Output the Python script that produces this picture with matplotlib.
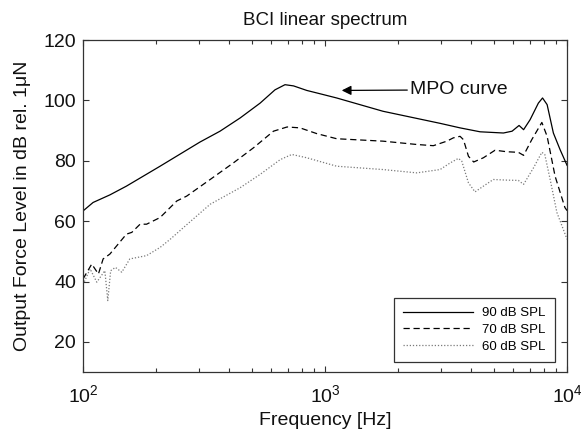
import numpy as np
import matplotlib
matplotlib.use('Agg')
import matplotlib.pyplot as plt

plt.rcParams['font.family'] = ['Liberation Sans', 'DejaVu Sans']

# 90 dB SPL (MPO curve)
f90 = [100, 110, 129, 151, 208, 304, 368, 446, 539, 621, 683, 741, 840, 953, 1117,
       1735, 2988, 3613, 4371, 5458, 5926, 6334, 6613, 7034, 7611, 7920, 8272, 8779,
       9357, 10000]
L90 = [63.4, 66.2, 68.7, 71.6, 78.2, 86.2, 89.8, 94.2, 99.1, 103.5, 105.2, 104.8,
       103.3, 102.2, 100.8, 96.4, 92.4, 90.9, 89.6, 89.2, 89.8, 91.7, 90.3, 93.6,
       99.1, 100.8, 98.6, 89.2, 83.7, 78.5]

# 70 dB SPL
f70 = [100, 108.6, 115.7, 121, 129, 151, 159, 172, 183, 208, 244, 268, 335, 418, 506,
       612, 697, 788, 924, 1117, 1735, 2392, 2802, 3186, 3391, 3613, 3731, 3913, 4113,
       4511, 5041, 5628, 6292, 6613, 7148, 7868, 8272, 8923, 9800, 10000]
L70 = [40.9, 45.8, 42.5, 47.5, 49.1, 55.7, 56.3, 59.0, 59.0, 61.2, 66.7, 68.3, 73.8,
       79.3, 84.3, 89.8, 91.2, 90.9, 89.0, 87.3, 86.5, 85.4, 85.0, 86.5, 87.6, 88.1,
       87.0, 81.5, 79.6, 81.0, 83.5, 83.0, 82.8, 81.8, 87.0, 92.7, 88.1, 74.9, 64.5,
       63.5]

# 60 dB SPL
f60 = [100, 106.9, 113.9, 123, 126.5, 130, 136, 144.5, 156, 183, 208, 229, 260, 335,
       446, 539, 653, 729, 840, 1117, 1735, 2392, 2988, 3290, 3556, 3671, 3913, 4165,
       4511, 4958, 5628, 6292, 6613, 7270, 7868, 8089, 8515, 9077, 10000]
L60 = [39.0, 44.2, 39.8, 43.6, 33.7, 43.6, 44.7, 43.1, 47.5, 48.6, 51.3, 54.0, 57.9,
       65.6, 71.1, 75.5, 80.4, 82.1, 81.0, 78.2, 77.1, 76.0, 77.1, 79.3, 80.8, 79.9,
       72.7, 69.7, 71.6, 73.8, 73.6, 73.5, 72.2, 77.7, 82.8, 82.1, 73.8, 62.9, 54.0]

yticks = [20, 40, 60, 80, 100, 120]

fig = plt.figure(figsize=(5.81, 4.42), dpi=100)
ax = fig.add_axes([0.143, 0.158, 0.833, 0.7515])

ax.semilogx(f90, L90, color='black', lw=0.9, ls='-', label='90 dB SPL')
ax.semilogx(f70, L70, color='black', lw=0.9, ls=(0, (5, 3)), label='70 dB SPL')
ax.semilogx(f60, L60, color='#7a7a7a', lw=0.9, ls=(0, (1, 1.5)), label='60 dB SPL')

ax.set_xlim(100, 10000)
ax.set_ylim(10, 120)
ax.set_yticks(yticks)

for s in ax.spines.values():
    s.set_color('#333333')
    s.set_linewidth(0.9)

ax.tick_params(which='both', direction='in', top=True, right=True, colors='#333333',
               labelcolor='#111111')
ax.tick_params(which='major', length=4, width=0.8, labelsize=14)
ax.tick_params(which='minor', length=3, width=0.8)
ax.tick_params(axis='x', which='major', pad=9)
ax.tick_params(axis='y', which='major', pad=5)

ax.set_title('BCI linear spectrum', fontsize=13.5, pad=11, color='#111111')
ax.set_xlabel('Frequency [Hz]', fontsize=14, labelpad=4, color='#111111')
ax.set_ylabel('Output Force Level in dB rel. 1μN', fontsize=14, labelpad=9,
              color='#111111')

ax.annotate('MPO curve', xy=(1172, 103.3), xytext=(2245, 103.5),
            fontsize=14, va='center', ha='left', color='#111111',
            arrowprops=dict(arrowstyle='-|>', color='black', lw=0.9,
                            mutation_scale=14, shrinkA=0, shrinkB=0))

leg = ax.legend(loc='lower right', bbox_to_anchor=(0.975, 0.03), borderaxespad=0,
                fontsize=9.5, handlelength=5.3, labelspacing=0.35, fancybox=False,
                edgecolor='#333333', framealpha=1, borderpad=0.7, handletextpad=0.7)
leg.get_frame().set_linewidth(0.9)

fig.savefig('out.png', dpi=100)
